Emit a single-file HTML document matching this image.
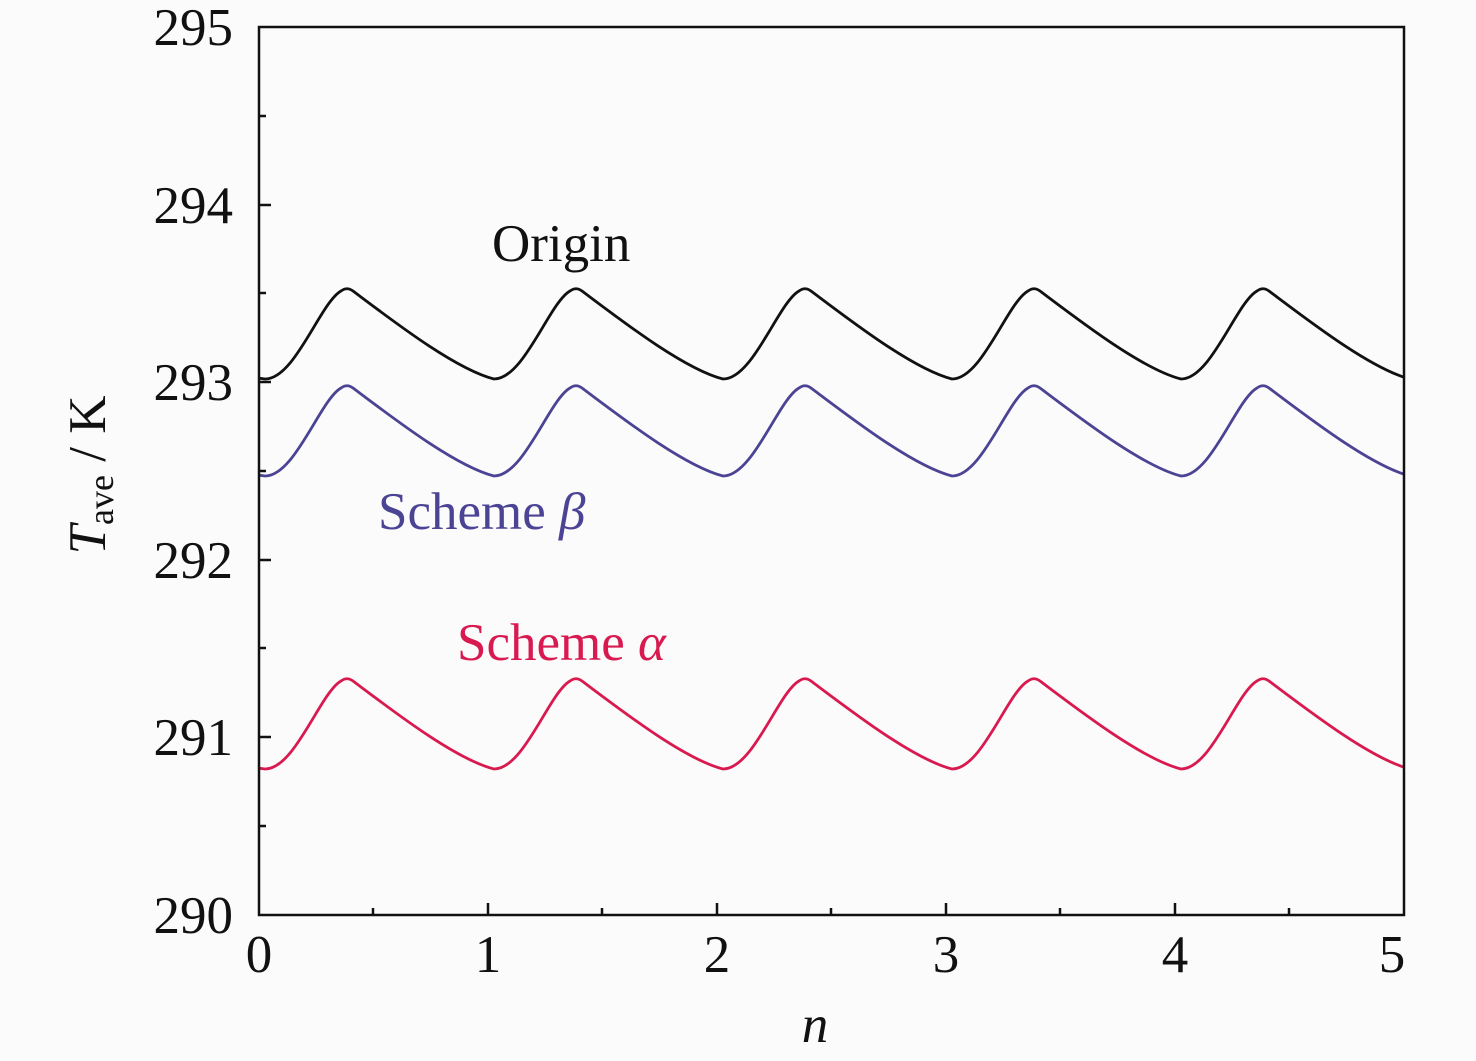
<!DOCTYPE html>
<html><head><style>
html,body{margin:0;padding:0;background:#fbfbfb;}
svg{display:block}
text{font-family:"Liberation Serif",serif;}
</style></head><body>
<svg width="1476" height="1061" viewBox="0 0 1476 1061">
<defs>
<clipPath id="c"><rect x="259" y="27" width="1145" height="888"/></clipPath>
<path id="p" d="M250 377 L265 379 c30,0 55,-76 76,-88 c4,-3 8,-3 12,0 c40,30 102,78 141,88 c30,0 55,-76 76,-88 c4,-3 8,-3 12,0 c40,30 102,78 141,88 c30,0 55,-76 76,-88 c4,-3 8,-3 12,0 c40,30 102,78 141,88 c30,0 55,-76 76,-88 c4,-3 8,-3 12,0 c40,30 102,78 141,88 c30,0 55,-76 76,-88 c4,-3 8,-3 12,0 c40,30 102,78 141,88 c30,0 55,-76 76,-88" fill="none" stroke-width="2.8"/>
</defs>
<g clip-path="url(#c)">
<use href="#p" stroke="#111"/>
<use href="#p" stroke="#4b4393" transform="translate(0,97)"/>
<use href="#p" stroke="#d81a50" transform="translate(0,390)"/>
</g>
<rect x="259" y="27" width="1145" height="888" fill="none" stroke="#111" stroke-width="2.5"/>
<g stroke="#111" stroke-width="2.5">
<line x1="259" y1="205" x2="271" y2="205"/><line x1="259" y1="382" x2="271" y2="382"/><line x1="259" y1="560" x2="271" y2="560"/><line x1="259" y1="737" x2="271" y2="737"/>
<line x1="259" y1="116" x2="266" y2="116"/><line x1="259" y1="293" x2="266" y2="293"/><line x1="259" y1="471" x2="266" y2="471"/><line x1="259" y1="648" x2="266" y2="648"/><line x1="259" y1="826" x2="266" y2="826"/>
<line x1="488" y1="915" x2="488" y2="903"/><line x1="717" y1="915" x2="717" y2="903"/><line x1="946" y1="915" x2="946" y2="903"/><line x1="1175" y1="915" x2="1175" y2="903"/>
<line x1="373" y1="915" x2="373" y2="908"/><line x1="602" y1="915" x2="602" y2="908"/><line x1="831" y1="915" x2="831" y2="908"/><line x1="1060" y1="915" x2="1060" y2="908"/><line x1="1289" y1="915" x2="1289" y2="908"/>
</g>
<g font-size="53" fill="#111" text-anchor="end">
<text x="233" y="45">295</text><text x="233" y="223">294</text><text x="233" y="400">293</text><text x="233" y="578">292</text><text x="233" y="755">291</text><text x="233" y="933">290</text>
</g>
<g font-size="53" fill="#111" text-anchor="middle">
<text x="259" y="972">0</text><text x="488" y="972">1</text><text x="717" y="972">2</text><text x="946" y="972">3</text><text x="1175" y="972">4</text><text x="1392" y="972">5</text>
</g>
<text x="815" y="1042" font-size="53" font-style="italic" text-anchor="middle" fill="#111">n</text>
<text transform="translate(105,475) rotate(-90)" font-size="53" fill="#111" text-anchor="middle"><tspan font-style="italic">T</tspan><tspan font-size="36" dy="8">ave</tspan><tspan dy="-8"> / K</tspan></text>
<text x="492" y="261" font-size="53" fill="#111">Origin</text>
<text x="378" y="529" font-size="53" fill="#4b4393">Scheme <tspan font-style="italic">β</tspan></text>
<text x="457" y="660" font-size="53" fill="#d81a50">Scheme <tspan font-style="italic">α</tspan></text>
</svg>
</body></html>
